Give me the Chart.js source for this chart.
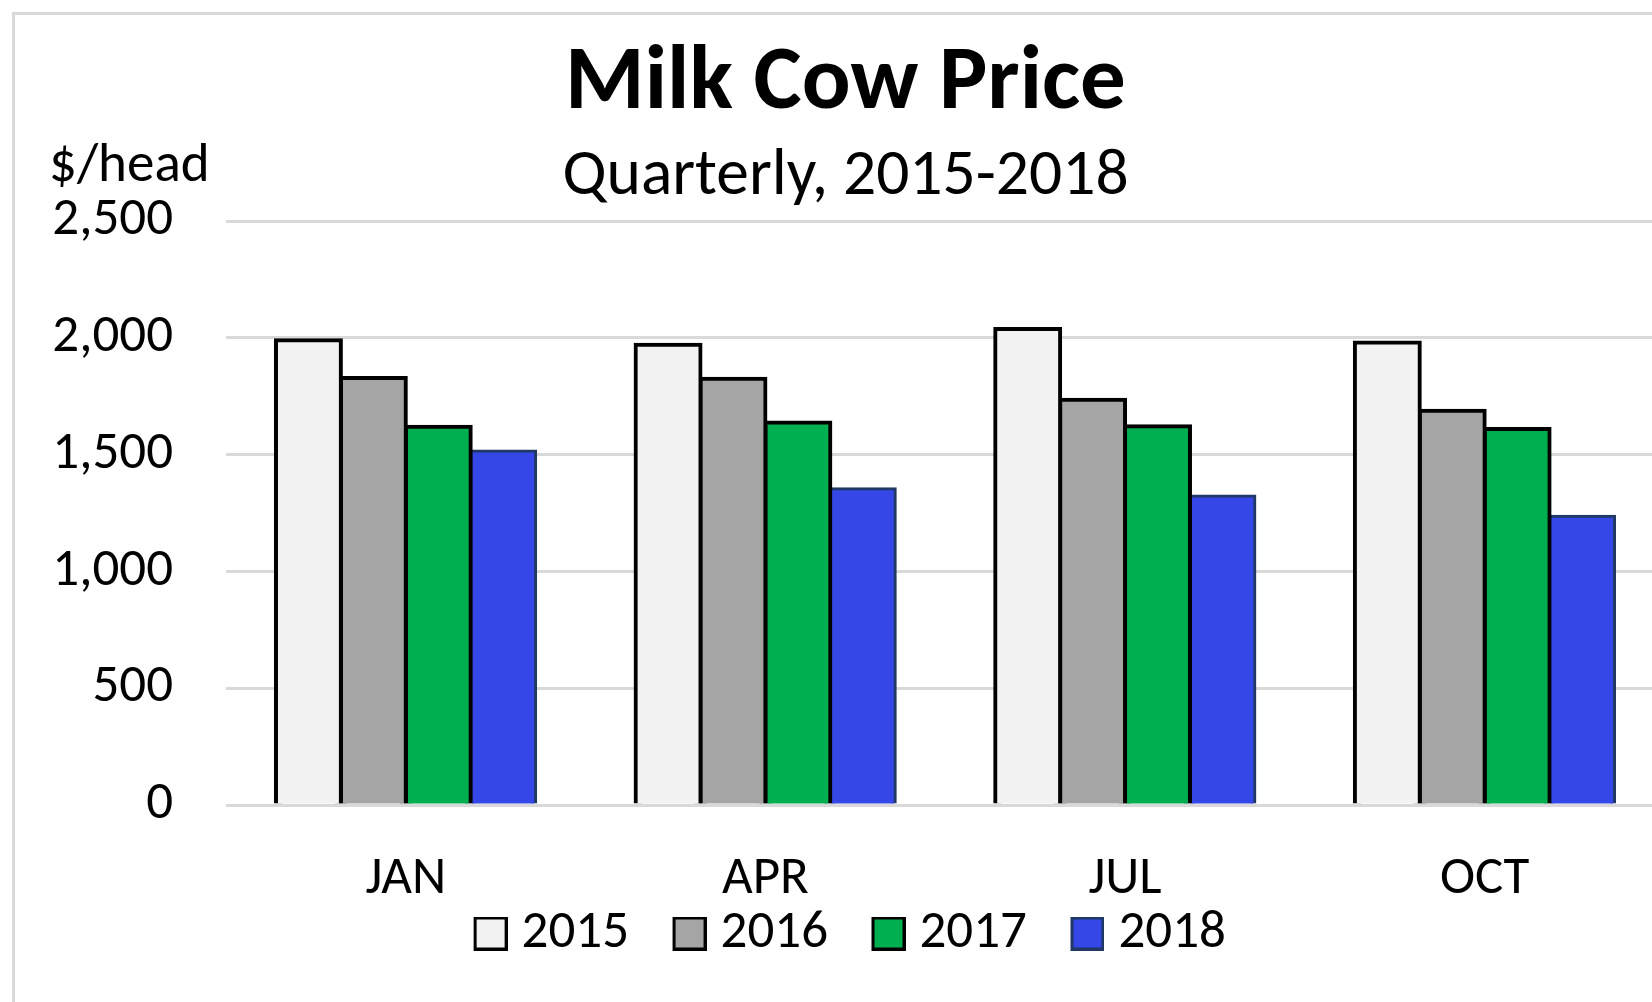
<!DOCTYPE html>
<html>
<head>
<meta charset="utf-8">
<script src="https://cdn.jsdelivr.net/npm/chart.js@4.4.1/dist/chart.umd.min.js"></script>
<style>
  html, body { margin:0; padding:0; background:#fff; overflow:hidden; }
  .chart-frame { position:absolute; left:12px; top:12px; width:1662px; height:1000px; border:3px solid #d9d9d9; background:#fff; }
  canvas { display:block; }
</style>
</head>
<body>
<div class="chart-frame"><canvas id="milkChart" width="1662" height="1000"></canvas></div>
<script>
// data
const quarters = ['JAN', 'APR', 'JUL', 'OCT'];
const years = ['2015', '2016', '2017', '2018'];
const price2015 = [1989, 1970, 2038, 1980];
const price2016 = [1828, 1825, 1735, 1688];
const price2017 = [1619, 1637, 1621, 1610];
const price2018 = [1515, 1354, 1323, 1236];
const yTicks = [0, 500, 1000, 1500, 2000, 2500];

const FONT = 'Calibri, Carlito, Lato, sans-serif';

const MilkChart = (() => {
  const fills = ['#f2f2f2', '#a5a5a5', '#00b050', '#3547e6'];
  const borders = ['#000000', '#000000', '#000000', '#203864'];
  const widths = [4, 4, 4, 3];
  const series = [price2015, price2016, price2017, price2018];

  // legend square sits close to its text (Excel style); canvas is centred on the
  // legend box slot, the square is drawn in its right part
  function swatch(fill, stroke){
    const c = document.createElement('canvas');
    c.width = 55; c.height = 34;
    const g = c.getContext('2d');
    g.fillStyle = fill;
    g.fillRect(22.5, 1.5, 31, 31);
    g.strokeStyle = stroke;
    g.lineWidth = 3;
    g.strokeRect(22.5, 1.5, 31, 31);
    return c;
  }
  const swatches = fills.map((f, i) => swatch(f, borders[i]));

  const unitLabel = {
    id: 'unitLabel',
    beforeDraw(chart){
      // x labels hang below the (squeezed) axis box, so don't clip them to it
      if (chart.scales.x) chart.scales.x._computeLabelArea = () => undefined;
    },
    afterDraw(chart){
      // "$/head" sits above the value axis, horizontal like Excel does it
      const ctx = chart.ctx;
      ctx.save();
      ctx.font = `55px ${FONT}`;
      ctx.fillStyle = '#000';
      ctx.textAlign = 'left';
      ctx.textBaseline = 'alphabetic';
      ctx.fillText('$/head', 34, 166);
      ctx.restore();
    }
  };

  function render(){
    return new Chart(document.getElementById('milkChart'), {
      type: 'bar',
      data: {
        labels: quarters,
        datasets: years.map((y, i) => ({
          label: y,
          data: series[i],
          backgroundColor: fills[i],
          borderColor: borders[i],
          borderWidth: widths[i],
          borderSkipped: 'start',
          inflateAmount: widths[i] / 2,
          categoryPercentage: 0.722,
          barPercentage: 1.0
        }))
      },
      options: {
        responsive: false,
        animation: false,
        layout: { padding: { top: 0, left: 11.5, right: 12.5, bottom: 45 } },
        plugins: {
          title: {
            display: true, text: 'Milk Cow Price', color: '#000',
            font: { family: FONT, size: 91, weight: 'bold', lineHeight: 1.1 },
            padding: { top: 20.5, bottom: 0 }
          },
          subtitle: {
            display: true, text: 'Quarterly, 2015-2018', color: '#000',
            font: { family: FONT, size: 65.5, weight: 'normal', lineHeight: 1.2 },
            padding: { top: 2.35, bottom: 4.45 }
          },
          legend: {
            position: 'bottom',
            labels: {
              color: '#000', boxWidth: 30, boxHeight: 30, padding: 35,
              usePointStyle: true,
              font: { family: FONT, size: 53 },
              generateLabels: chart => Chart.defaults.plugins.legend.labels.generateLabels(chart)
                .map((item, i) => ({ ...item, pointStyle: swatches[i] }))
            }
          },
          tooltip: { enabled: false }
        },
        scales: {
          x: {
            grid: { display: false },
            border: { display: false },
            ticks: { color: '#000', padding: 35.3, font: { family: FONT, size: 53 } },
            afterFit(scale){ scale.height = 67; }
          },
          y: {
            min: yTicks[0], max: yTicks[yTicks.length - 1],
            grid: { color: '#d9d9d9', lineWidth: 3, drawTicks: false },
            border: { display: false },
            ticks: {
              stepSize: yTicks[1] - yTicks[0], color: '#000', padding: 53,
              font: { family: FONT, size: 53 },
              callback: v => Number(v).toLocaleString('en-US')
            },
            afterFit(scale){ scale.width = 199.5; }
          }
        }
      },
      plugins: [unitLabel]
    });
  }

  return { render };
})();

MilkChart.render();
</script>
</body>
</html>
